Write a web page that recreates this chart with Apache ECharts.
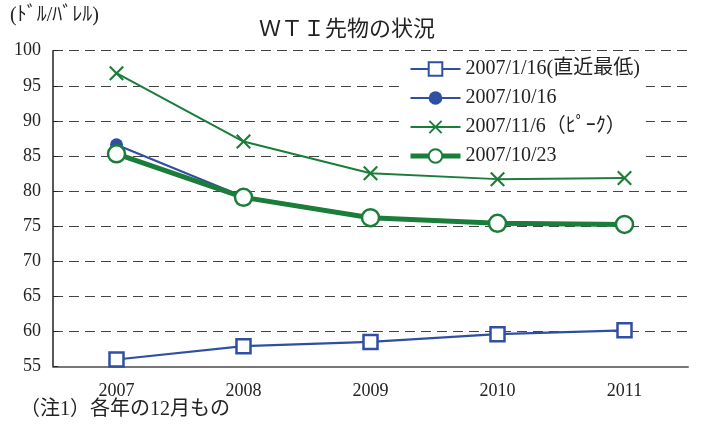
<!DOCTYPE html>
<html>
<head>
  <meta charset="utf-8">
  <script src="https://cdn.jsdelivr.net/npm/echarts@6/dist/echarts.min.js"></script>
  <style>
  body{margin:0;background:#fff}
  #main{width:702px;height:427px}
  </style>
</head>
<body>
  <div id="main"></div>
  <script type="text/javascript">
      // 限月（各年の12月もの）
      var years = ['2007', '2008', '2009', '2010', '2011'];
      var seriesNames = ['2007/1/16(直近最低)', '2007/10/16', '2007/11/6（ﾋﾟｰｸ）', '2007/10/23'];
      var low0116 = [56.0, 57.9, 58.5, 59.6, 60.15];
      var d1016 = [86.6, 79.2, 76.3, 75.4, 75.3];
      var peak1106 = [96.8, 87.05, 82.55, 81.7, 81.85];
      var d1023 = [85.3, 79.1, 76.2, 75.4, 75.25];

      var blue = '#2f4fa2';
      var green = '#1b7d3a';
      var serif = '"Liberation Serif", "DejaVu Serif", "Noto Sans CJK JP", serif';
      var crossPath = 'path://M0,1L1,0L5,4L9,0L10,1L6,5L10,9L9,10L5,6L1,10L0,9L4,5Z';

      var myChart = echarts.init(document.getElementById('main'));
      var option = {
          animation: false,
          backgroundColor: '#fff',
          title: {
              text: 'ＷＴＩ先物の状況',
              left: 342,
              textAlign: 'center',
              top: 14,
              textStyle: {fontFamily: serif, fontSize: 22, fontWeight: 'normal', color: '#222'}
          },
          graphic: [
              {type: 'text', left: 10, top: 6, style: {text: '(ﾄﾞﾙ/ﾊﾞﾚﾙ)', font: '20px ' + serif, fill: '#222'}},
              {type: 'text', left: 20, top: 400, style: {text: '（注1）各年の12月もの', font: '20px ' + serif, fill: '#222'}}
          ],
          legend: {
              data: [
                  {name: seriesNames[0]},
                  {name: seriesNames[1]},
                  {name: seriesNames[2]},
                  {name: seriesNames[3], lineStyle: {width: 5}}
              ],
              orient: 'vertical',
              left: 402,
              top: 57,
              itemWidth: 50,
              itemHeight: 17,
              itemGap: 9,
              padding: [2, 6, 2, 6],
              backgroundColor: '#fff',
              textStyle: {fontFamily: serif, fontSize: 20, color: '#222'}
          },
          grid: {left: 53, right: 14, top: 50.7, bottom: 60.5},
          xAxis: {
              type: 'category',
              data: years,
              boundaryGap: true,
              axisLine: {lineStyle: {color: '#777', width: 2}},
              axisTick: {inside: true, length: 5, lineStyle: {color: '#222'}},
              axisLabel: {margin: 16, fontFamily: serif, fontSize: 18, color: '#222'},
              splitLine: {show: false}
          },
          yAxis: {
              type: 'value',
              min: 55,
              max: 100,
              interval: 5,
              axisLine: {show: true, lineStyle: {color: '#222', width: 1.5}},
              axisTick: {show: true, inside: true, length: 5, lineStyle: {color: '#222'}},
              axisLabel: {margin: 12, fontFamily: serif, fontSize: 18, color: '#222'},
              splitLine: {show: true, lineStyle: {color: '#444', type: [10, 6], width: 1.2}}
          },
          series: [
              {
                  name: seriesNames[0], type: 'line', data: low0116,
                  symbol: 'rect', symbolSize: 14,
                  lineStyle: {color: blue, width: 2.2},
                  itemStyle: {color: '#fff', borderColor: blue, borderWidth: 2.5}
              },
              {
                  name: seriesNames[1], type: 'line', data: d1016,
                  symbol: 'circle', symbolSize: 13,
                  lineStyle: {color: blue, width: 2.2},
                  itemStyle: {color: blue}
              },
              {
                  name: seriesNames[2], type: 'line', data: peak1106,
                  symbol: crossPath, symbolSize: 15,
                  lineStyle: {color: green, width: 2},
                  itemStyle: {color: green}
              },
              {
                  name: seriesNames[3], type: 'line', data: d1023,
                  symbol: 'circle', symbolSize: 17,
                  lineStyle: {color: green, width: 5},
                  itemStyle: {color: '#fff', borderColor: green, borderWidth: 2.5}
              }
          ]
      };
      myChart.setOption(option);
  </script>
</body>
</html>
